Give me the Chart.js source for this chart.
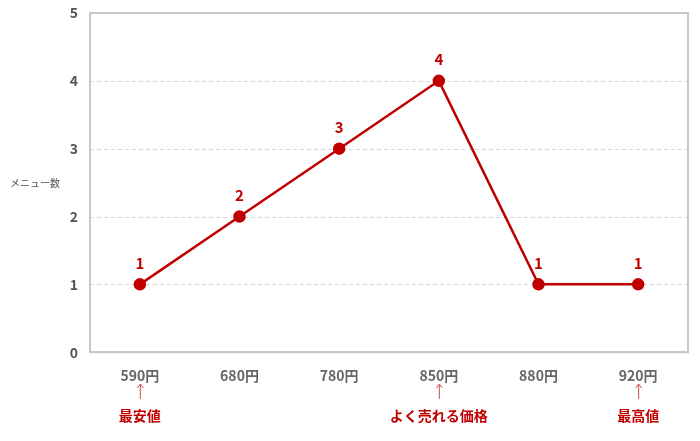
<!DOCTYPE html>
<html>
<head>
<meta charset="utf-8">
<script src="https://cdn.jsdelivr.net/npm/chart.js@4"></script>
<style>
  html, body { margin: 0; padding: 0; background: #fff; }
  #wrap { width: 700px; height: 441px; }
</style>
</head>
<body>
<div id="wrap"><canvas id="priceChart"></canvas></div>
<script>
const categories = ["590円", "680円", "780円", "850円", "880円", "920円"];
const menuCounts = [1, 2, 3, 4, 1, 1];
const notes = ["最安値", "", "", "よく売れる価格", "", "最高値"];
const yTitle = "メニュー数";

const RED = "#c00000";
const FONT = "'Noto Sans CJK JP', 'Noto Sans', sans-serif";

// value labels above points + notes under the x axis + horizontal y title
const extras = {
  id: "extras",
  afterDatasetsDraw(chart) {
    const c = chart.ctx;
    const meta = chart.getDatasetMeta(0);
    c.save();
    c.fillStyle = RED;
    c.font = "bold 15px " + FONT;
    c.textAlign = "center";
    c.textBaseline = "bottom";
    meta.data.forEach((pt, i) => {
      c.fillText(String(menuCounts[i]), pt.x, pt.y - 14);
    });

    const x = chart.scales.x;
    notes.forEach((note, i) => {
      if (!note) return;
      const px = x.getPixelForValue(i);
      c.strokeStyle = "#d24a4a";
      c.lineWidth = 1;
      c.beginPath();
      c.moveTo(px + 0.5, 385);
      c.lineTo(px + 0.5, 399);
      c.stroke();
      c.beginPath();
      c.moveTo(px - 2.5, 388);
      c.lineTo(px + 0.5, 384);
      c.lineTo(px + 3.5, 388);
      c.stroke();
      c.fillStyle = RED;
      c.font = "bold 14px " + FONT;
      c.textBaseline = "middle";
      c.fillText(note, px, 416);
    });

    c.fillStyle = "#555";
    c.font = "10px " + FONT;
    c.textAlign = "left";
    c.fillText(yTitle, 10, 183);
    c.restore();
  },
};

const ctx = document.getElementById("priceChart").getContext("2d");
new Chart(ctx, {
  type: "line",
  data: {
    labels: categories,
    datasets: [
      {
        data: menuCounts,
        borderColor: RED,
        backgroundColor: RED,
        borderWidth: 2.5,
        tension: 0,
        pointRadius: 5,
        pointHoverRadius: 5,
        fill: false,
      },
    ],
  },
  options: {
    responsive: true,
    maintainAspectRatio: false,
    animation: false,
    layout: { padding: { top: 13, right: 12, bottom: 42, left: 0 } },
    plugins: {
      legend: { display: false },
      tooltip: { enabled: false },
    },
    scales: {
      x: {
        offset: true,
        grid: { display: false, drawTicks: false },
        border: { display: true, color: "#c8c8c8", width: 2 },
        ticks: {
          color: "#666",
          padding: 15,
          font: { family: FONT, size: 14, weight: "bold" },
        },
      },
      y: {
        min: 0,
        max: 5,
        afterFit(scale) {
          scale.width = 90;
          scale.paddingTop = 0;
        },
        border: { display: true, color: "#c8c8c8", width: 2 },
        grid: { display: false, drawTicks: false },
        ticks: {
          stepSize: 1,
          color: "#555",
          padding: 12,
          font: { family: FONT, size: 14, weight: "bold" },
        },
      },
    },
  },
  plugins: [
    extras,
    {
      id: "frame",
      beforeDatasetsDraw(chart) {
        const { ctx: c, chartArea: a, scales } = chart;
        c.save();
        c.strokeStyle = "#d6d6d6";
        c.lineWidth = 1;
        c.setLineDash([4, 3]);
        [1, 2, 3, 4].forEach((v) => {
          const y = Math.round(scales.y.getPixelForValue(v)) + 0.5;
          c.beginPath();
          c.moveTo(a.left, y);
          c.lineTo(a.right, y);
          c.stroke();
        });
        c.setLineDash([]);
        c.strokeStyle = "#c8c8c8";
        c.lineWidth = 2;
        c.strokeRect(a.left, a.top, a.right - a.left, a.bottom - a.top);
        c.restore();
      },
    },
  ],
});
</script>
</body>
</html>
